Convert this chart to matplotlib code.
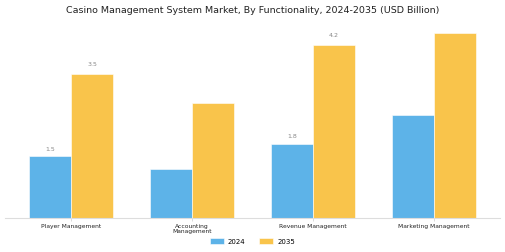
import matplotlib
matplotlib.use("Agg")
import matplotlib.pyplot as plt
import numpy as np

categories = ["Player Management", "Accounting\nManagement", "Revenue Management", "Marketing Management"]
years = ["2024", "2035"]
values_2024 = [1.5, 1.2, 1.8, 2.5]
values_2035 = [3.5, 2.8, 4.2, 4.5]
# which bars carry a value label
labels_2024 = ["1.5", "", "1.8", ""]
labels_2035 = ["3.5", "", "4.2", ""]

blue = "#5DB3E8"
yellow = "#F9C44B"

fig = plt.figure(figsize=(5.05, 2.53), dpi=100)
ax = fig.add_axes([0.01, 0.134, 0.98, 0.77])

x = np.arange(len(categories))
w = 0.35
b1 = ax.bar(x - w / 2, values_2024, w, color=blue, label=years[0], edgecolor="white", linewidth=0.4)
b2 = ax.bar(x + w / 2, values_2035, w, color=yellow, label=years[1], edgecolor="white", linewidth=0.4)

for bars, labs, off in ((b1, labels_2024, 4), (b2, labels_2035, 6)):
    for bar, lab in zip(bars, labs):
        if lab:
            ax.annotate(lab, (bar.get_x() + bar.get_width() / 2, bar.get_height()),
                        xytext=(0, off), textcoords="offset points",
                        ha="center", va="bottom", fontsize=4.5, color="#888888")

ax.set_xlim(-0.545, 3.545)
ax.set_ylim(0, 4.73)
ax.set_xticks(x)
ax.set_xticklabels(categories, fontsize=4.3, color="#222222", linespacing=1.0)
ax.tick_params(axis="x", length=2, width=0.5, color="#cccccc", pad=1.5)
ax.set_yticks([])
for s in ["top", "right", "left"]:
    ax.spines[s].set_visible(False)
ax.spines["bottom"].set_color("#dddddd")
ax.spines["bottom"].set_linewidth(0.8)

fig.suptitle("Casino Management System Market, By Functionality, 2024-2035 (USD Billion)",
             fontsize=6.8, color="#222222", y=0.975)
fig.legend(handles=[b1, b2], loc="lower center", bbox_to_anchor=(0.5, 0.005), ncol=2,
           frameon=False, fontsize=5, handlelength=2.0, handleheight=0.9,
           handletextpad=0.6, columnspacing=2.0)

fig.savefig("out.png", dpi=100)
